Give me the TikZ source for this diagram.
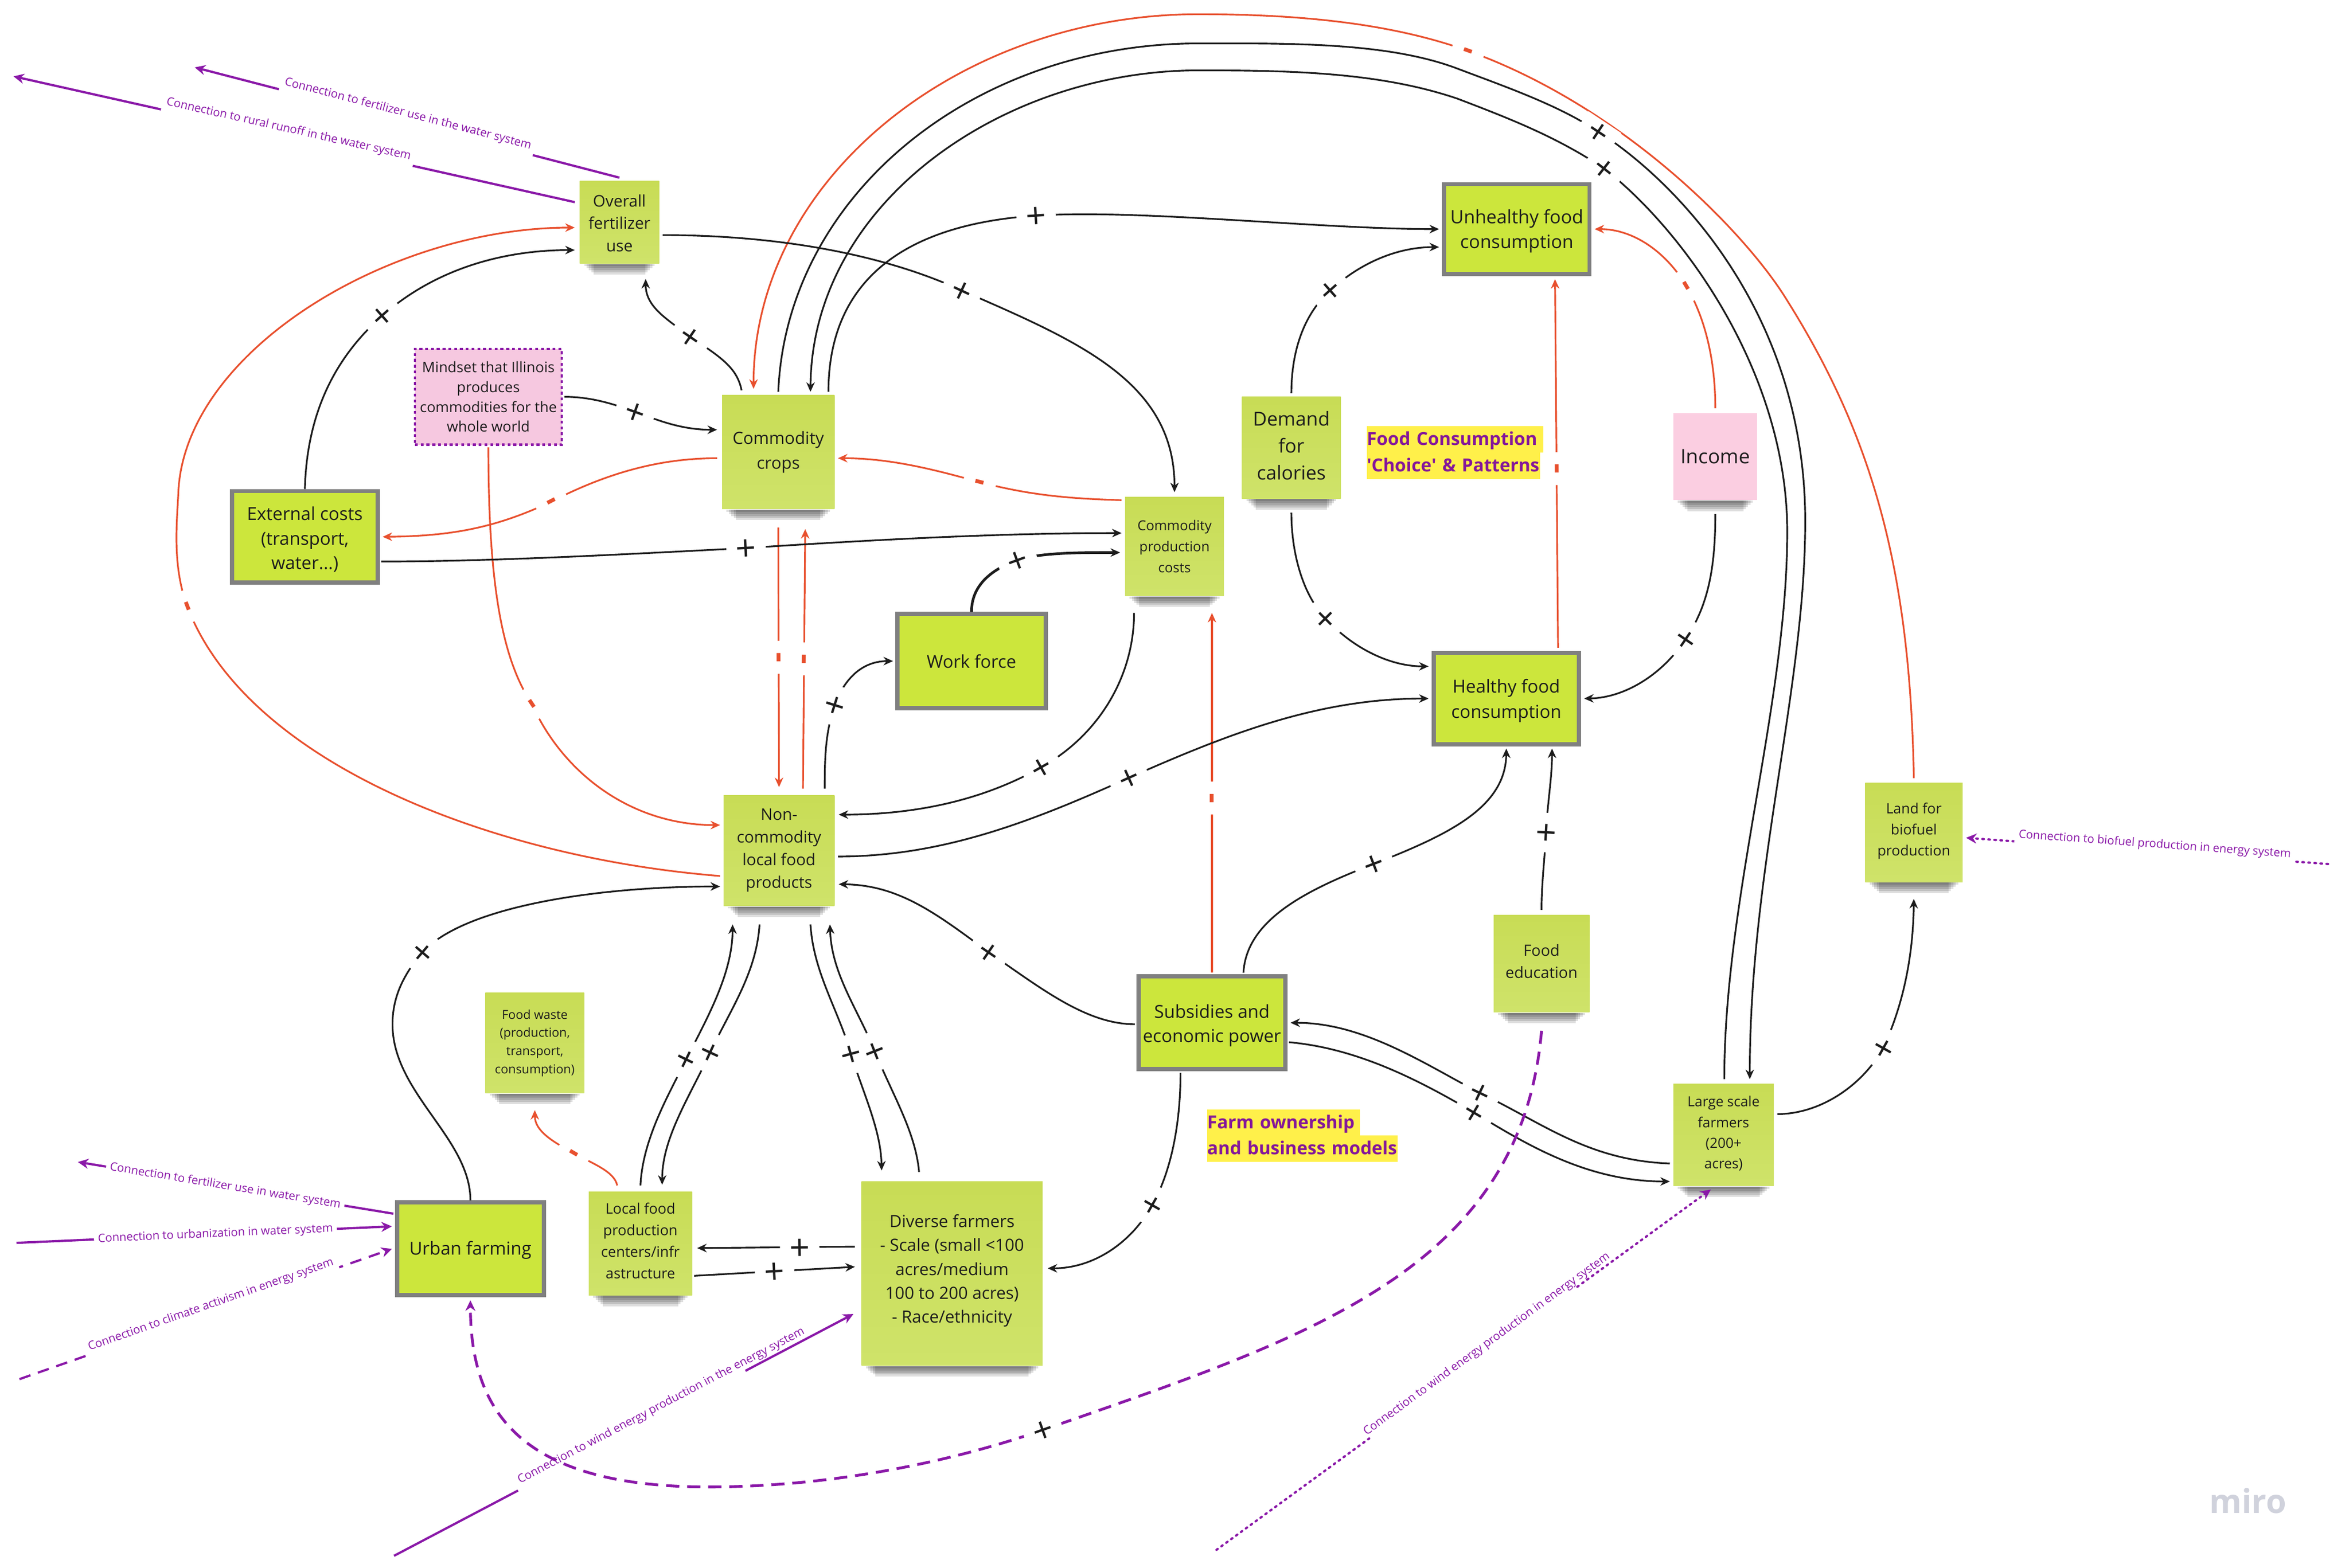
\documentclass[tikz,border=0pt]{standalone}
\usepackage{fontspec}
\setmainfont{Open Sans}
\usetikzlibrary{arrows.meta,calc}
\definecolor{ink}{HTML}{1C1C1C}
\definecolor{redl}{HTML}{E8502E}
\definecolor{purp}{HTML}{8A18A8}
\definecolor{hltext}{HTML}{84179A}
\definecolor{stickA}{HTML}{C8DC55}
\definecolor{stickB}{HTML}{CFE36A}
\definecolor{lime}{HTML}{CCE63C}
\definecolor{pinkn}{HTML}{F6C8E0}
\definecolor{pinki}{HTML}{FBCEE1}
\definecolor{yel}{HTML}{FFF04A}
\definecolor{frameg}{HTML}{808080}
\definecolor{logoc}{HTML}{D0D2DC}
\newcommand\pl{\raisebox{-.36em}{+}}
\newcommand\mn{\raisebox{-.26em}{-}}
\newcommand\fsz[2]{\fontsize{#1}{#2}\selectfont}
\newcommand\dnr[1]{\rule{0pt}{#1}}
\newcommand\upr[1]{\rule[-#1]{0pt}{#1}}
\tikzset{
  o/.style 2 args={shift={(#1,#2)}},
  sticky/.style={inner sep=0pt,align=center,text=ink,top color=stickA,bottom color=stickB,shade},
  framed/.style={inner sep=0pt,align=center,text=ink,fill=lime,draw=frameg,line width=1.6pt},
  blk/.style={draw=ink,line width=.65pt,-{Stealth[length=3.6pt,width=3.2pt]}},
  red/.style={draw=redl,line width=.65pt,-{Stealth[length=3.6pt,width=3.2pt]}},
  pur/.style={draw=purp,line width=.85pt,-{Stealth[length=4pt,width=3.8pt]}},
  pdash/.style={pur,line width=1.05pt,dash pattern=on 5pt off 3pt},
  pdash2/.style={pur,dash pattern=on 4.4pt off 3pt},
  pdot/.style={pur,line cap=round,dash pattern=on .6pt off 1.7pt},
  plus/.style={sloped,fill=white,inner sep=0pt,text=ink,font=\fontsize{13.5}{13.5}\selectfont,minimum width=15pt,text height=4.4pt,text depth=4.4pt},
  minus/.style={sloped,fill=white,inner sep=0pt,text=redl,font=\bfseries\fontsize{12}{12}\selectfont,minimum width=12.5pt,text height=1.5pt,text depth=1.5pt},
  ptext/.style={sloped,fill=white,inner xsep=1.5pt,inner ysep=2pt,text=purp,font=\fontsize{4.4}{5}\selectfont,yshift=2.6pt},
  hl/.style={fill=yel,inner xsep=0pt,inner ysep=.2pt,text=hltext,font=\bfseries\fontsize{6.85}{8}\selectfont,anchor=west,text height=7pt,text depth=2.6pt},
}
\newcommand\shad[1]{\foreach \i in {1,...,5}{\fill[black,opacity=.13] ([xshift={(1+\i*.9)*1pt}]#1.south west) rectangle ([xshift={-(1+\i*.9)*1pt},yshift={-\i*.8pt}]#1.south east);}}
\begin{document}
\begin{tikzpicture}[x=0.02cm,y=-0.02cm]
\useasboundingbox (0,0) rectangle (1568,1047);
\node[sticky,minimum width=53*.02cm,minimum height=55*.02cm,font=\fsz{6.1}{8.5}] (ovr) at (413.5,148.5) {\dnr{5.1pt}Overall\\fertilizer\\use};
\node[inner sep=0pt,align=center,text=ink,fill=pinkn,draw=purp,line width=.9pt,dash pattern=on 1.1pt off 1.1pt,minimum width=98*.02cm,minimum height=64*.02cm,font=\fsz{5.5}{7.5}] (mind) at (326,265) {Mindset that Illinois\\produces\\commodities for the\\whole world};
\node[sticky,minimum width=75*.02cm,minimum height=76*.02cm,font=\fsz{6.4}{9.3}] (com) at (519.5,302) {Commodity\\crops};
\node[sticky,minimum width=66*.02cm,minimum height=66*.02cm,font=\fsz{5.2}{8}] (cpc) at (784,365) {Commodity\\production\\costs};
\node[framed,minimum width=99*.02cm,minimum height=63*.02cm,font=\fsz{6.7}{9.4}] (wf) at (648.5,441.5) {Work force};
\node[sticky,minimum width=74*.02cm,minimum height=74*.02cm,font=\fsz{6.1}{8.6}] (non) at (520,568) {Non-\\commodity\\local food\\products};
\node[framed,minimum width=97*.02cm,minimum height=61*.02cm,font=\fsz{6.8}{9.3}] (ext) at (203.5,358.5) {\dnr{7.2pt}External costs\\(transport,\\water...)};
\node[sticky,minimum width=66*.02cm,minimum height=68*.02cm,font=\fsz{7.3}{10.2}] (dem) at (862,299) {Demand\\for\\calories\upr{1.7pt}};
\node[framed,minimum width=97*.02cm,minimum height=60*.02cm,font=\fsz{7}{9.5}] (unh) at (1012.5,153) {\dnr{7pt}Unhealthy food\\consumption};
\node[inner sep=0pt,align=center,text=ink,fill=pinki,minimum width=56*.02cm,minimum height=58*.02cm,font=\fsz{7.6}{10}] (inc) at (1145,305) {Income};
\node[framed,minimum width=97*.02cm,minimum height=61*.02cm,font=\fsz{6.8}{9.5}] (hea) at (1005.5,466.5) {\dnr{7pt}Healthy food\\consumption};
\node[sticky,minimum width=65*.02cm,minimum height=66*.02cm,font=\fsz{5.4}{8}] (bio) at (1277.5,556) {Land for\\biofuel\\production\upr{2.4pt}};
\node[sticky,minimum width=67*.02cm,minimum height=68*.02cm,font=\fsz{5.3}{7.8}] (lrg) at (1150.5,758) {Large scale\\farmers\\(200+\\acres)\upr{2.1pt}};
\node[sticky,minimum width=64*.02cm,minimum height=65*.02cm,font=\fsz{5.9}{8.5}] (edu) at (1029,643.5) {Food\\education\upr{1.7pt}};
\node[framed,minimum width=98*.02cm,minimum height=62*.02cm,font=\fsz{6.8}{9.2}] (sub) at (809,683) {\dnr{7.5pt}Subsidies and\\economic power};
\node[sticky,minimum width=66*.02cm,minimum height=67*.02cm,font=\fsz{4.7}{6.9}] (wst) at (357,696.5) {Food waste\\(production,\\transport,\\consumption)};
\node[sticky,minimum width=69*.02cm,minimum height=69*.02cm,font=\fsz{5.5}{8.2}] (loc) at (427.5,830.5) {Local food\\production\\centers/infr\\astructure\upr{2.2pt}};
\node[sticky,minimum width=121*.02cm,minimum height=123*.02cm,font=\fsz{6.4}{9.1}] (div) at (635.5,850.5) {Diverse farmers\\- Scale (small <100\\acres/medium\\100 to 200 acres)\\- Race/ethnicity\upr{3.7pt}};
\node[framed,minimum width=98*.02cm,minimum height=62*.02cm,font=\fsz{6.8}{9.5}] (urb) at (314,834) {\dnr{6.1pt}Urban farming};
% shadows
\foreach \n in {ovr,com,cpc,non,dem,inc,bio,lrg,edu,wst,loc,div}{\shad{\n}}
% text labels
\node[hl,text width=118*.02cm] (lb1) at (912,293.5) {Food Consumption};
\node[hl,text width=115.6*.02cm] (lb2) at (912,311) {\textquotesingle Choice\textquotesingle{} \& Patterns};
\node[hl,text width=102*.02cm] (lb3) at (805.5,749.7) {Farm ownership};
\node[hl,text width=127*.02cm] (lb4) at (805.5,767) {and business models};
\node[text=logoc,font=\bfseries\fontsize{12.5}{13}\selectfont,inner sep=0pt] (logo) at (1500.5,1002.5) {miro};
% free ends
\coordinate (c1) at (52,776);
\coordinate (c2) at (11,830);
\coordinate (c3) at (13,921);
\coordinate (c4) at (130,45);
\coordinate (c5) at (9,51);
\coordinate (c6) at (1554,577);
\coordinate (c7) at (812,1035);
\coordinate (c8) at (263,1039);
\coordinate (e1) at ([o={-5}{27}]div.west);
\coordinate (e2) at ([o={-8.5}{2}]lrg.south);
% ---- red connectors
\draw[red] ([o={-2}{17}]non.west) .. controls (330,573) and (165,510) .. node[minus,pos=1] (m1) {\mn} (125,405) .. controls (115,378) and (118,350) .. (119,330) .. controls (122,235) and (260,152) .. ([o={-3}{3.5}]ovr.west);
\draw[red] ([o={0}{-3}]bio.north) .. controls (1275,380) and (1250,290) .. (1190,196) .. controls (1160,150) and (1080,70) .. node[minus,pos=1] (m2) {\mn} (980,34) .. controls (930,16) and (870,9.5) .. (800,9.5) .. controls (640,9.5) and (503,120) .. ([o={-16.5}{-4}]com.north);
\draw[red] ([o={-3}{4}]com.west) .. controls (440,306) and (405,316) .. node[minus,pos=1] (m3) {\mn} (368,335) .. controls (330,353) and (300,358) .. ([o={2}{0}]ext.east);
\draw[red] ([o={0}{1}]mind.south) .. controls (326,390) and (335,440) .. node[minus,pos=1] (m4) {\mn} (355,470) .. controls (375,515) and (420,551) .. ([o={-2}{-17}]non.west);
\draw[red] ([o={-2}{-31}]cpc.west) .. controls (710,333) and (685,330) .. node[minus,pos=1] (m5) {\mn} (654,322) .. controls (625,314) and (595,306) .. ([o={2}{4}]com.east);
\draw[red] ([o={0}{12}]com.south) -- node[minus,pos=.5] (m6) {\mn} ([o={0}{-5}]non.north);
\draw[red] ([o={16}{-4}]non.north) -- node[minus,pos=.5] (m7) {\mn} ([o={18}{13}]com.south);
\draw[red] ([o={0}{-1}]sub.north) -- node[minus,pos=.485] (m8) {\mn} ([o={25}{11}]cpc.south);
\draw[red] ([o={0}{-3}]inc.north) .. controls (1145,240) and (1138,212) .. node[minus,pos=1] (m9) {\mn} (1125.6,191) .. controls (1112,168) and (1090,153) .. ([o={2}{0}]unh.east);
\draw[red] ([o={34.5}{-2}]hea.north) -- node[minus,pos=.486] (m10) {\mn} ([o={25.5}{2}]unh.south);
\draw[red] ([o={-15.5}{-4}]loc.north) .. controls (410,782) and (395,777) .. node[minus,pos=1] (m11) {\mn} (383,770) .. controls (368,762) and (357,755) .. ([o={0}{11}]wst.south);
% ---- black connectors
\draw[blk] (ext.north) .. controls (205,270) and (228,235) .. node[plus,pos=1] (p1) {\pl} (255,211) .. controls (290,180) and (335,167) .. ([o={-3}{18.5}]ovr.west);
\draw[blk] ([o={2}{8.5}]ovr.east) .. controls (520,157) and (590,170) .. node[plus,pos=1] (p2) {\pl} (642,194) .. controls (720,228) and (784,255) .. ([o={0}{-3}]cpc.north);
\draw[blk] ([o={-24.5}{-3}]com.north) .. controls (492,245) and (480,238) .. node[plus,pos=1] (p3) {\pl} (461,225) .. controls (445,213) and (431,205) .. ([o={17.5}{10}]ovr.south);
\draw[blk] ([o={1}{0}]mind.east) .. controls (395,265) and (410,270) .. node[plus,pos=1] (p4) {\pl} (424,275) .. controls (440,281) and (455,287) .. ([o={-3}{-15}]com.west);
\draw[blk] ([o={1}{16.5}]ext.east) .. controls (330,375) and (420,370) .. node[plus,pos=1] (p5) {\pl} (498,366) .. controls (590,360) and (670,356) .. ([o={-2}{-9}]cpc.west);
\draw[blk,line width=1pt] (wf.north) .. controls (648.5,392) and (660,381) .. node[plus,pos=1] (p6) {\pl} (679,374) .. controls (695,369) and (720,369) .. ([o={-3}{4}]cpc.west);
\draw[blk] ([o={30.5}{-4}]non.north) .. controls (550.5,505) and (551,490) .. node[plus,pos=1] (p7) {\pl} (557,471) .. controls (565,450) and (578,441.5) .. ([o={-1.5}{0}]wf.west);
\draw[blk] ([o={-27}{11}]cpc.south) .. controls (757,450) and (735,490) .. node[plus,pos=1] (p8) {\pl} (695,512.4) .. controls (655,535) and (610,544) .. ([o={2.5}{-24}]non.east);
\draw[blk] ([o={2}{4}]non.east) .. controls (630,572) and (690,548) .. node[plus,pos=1] (p9) {\pl} (753.4,519.5) .. controls (820,490) and (880,466.5) .. ([o={-2}{0}]hea.west);
\draw[blk] ([o={-1}{1}]sub.west) .. controls (725,684) and (695,660) .. node[plus,pos=1] (p10) {\pl} (660,636) .. controls (625,610) and (600,591) .. ([o={2.5}{22.5}]non.east);
\draw[blk] ([o={21}{-1}]sub.north) .. controls (832,615) and (870,595) .. node[plus,pos=1] (p11) {\pl} (917,577) .. controls (965,558) and (1005,540) .. ([o={0}{1.5}]hea.south);
\draw[blk] ([o={0}{-3}]edu.north) .. controls (1029,590) and (1031,575) .. node[plus,pos=1] (p12) {\pl} (1032,556) .. controls (1033,535) and (1036,520) .. ([o={30.5}{1.5}]hea.south);
\draw[blk] ([o={0}{-2}]dem.north) .. controls (862,235) and (870,210) .. node[plus,pos=1] (p13) {\pl} (888,194) .. controls (905,178) and (930,165) .. ([o={-2}{12}]unh.west);
\draw[blk] ([o={0}{9}]dem.south) .. controls (862,370) and (870,398) .. node[plus,pos=1] (p14) {\pl} (885,413) .. controls (900,430) and (925,445) .. ([o={-2}{-21.5}]hea.west);
\draw[blk] ([o={0}{9}]inc.south) .. controls (1145,380) and (1140,405) .. node[plus,pos=1] (p15) {\pl} (1125,427) .. controls (1110,450) and (1085,466) .. ([o={2}{0}]hea.east);
\draw[blk] ([o={33.5}{-2}]com.north) .. controls (553,190) and (600,150) .. node[plus,pos=1] (p16) {\pl} (691.6,144) .. controls (760,139.5) and (880,153) .. ([o={-2}{0}]unh.west);
\draw[blk] ([o={0}{-2}]com.north) .. controls (525,130) and (650,29) .. (800,29) .. controls (860,29) and (925,28) .. (972,45.5) .. controls (1005,58) and (1040,70) .. node[plus,pos=1] (p17) {\pl} (1067,88) .. controls (1120,122) and (1205,210) .. (1205,348) .. controls (1205,460) and (1168,580) .. ([o={17.5}{-3}]lrg.north);
\draw[blk] ([o={.5}{-3}]lrg.north) .. controls (1151,600) and (1193,470) .. (1193,355) .. controls (1193,250) and (1125,155) .. node[plus,pos=1] (p18) {\pl} (1071,112.7) .. controls (1040,92) and (1010,80) .. (972.6,65.8) .. controls (920,48) and (860,47) .. (800,47) .. controls (670,47) and (542,135) .. ([o={21.5}{-2}]com.north);
\draw[blk] ([o={2}{-14}]lrg.east) .. controls (1215,744) and (1243,725) .. node[plus,pos=1] (p19) {\pl} (1257,700) .. controls (1270,672) and (1277,640) .. ([o={0}{11}]bio.south);
\draw[blk] ([o={-2}{19}]lrg.west) .. controls (1060,775) and (1030,750) .. node[plus,pos=1] (p20) {\pl} (988,730) .. controls (950,710) and (910,683) .. ([o={2}{0}]sub.east);
\draw[blk] ([o={1}{13}]sub.east) .. controls (905,700) and (945,720) .. node[plus,pos=1] (p21) {\pl} (984,743) .. controls (1020,765) and (1060,789) .. ([o={-2}{31}]lrg.west);
\draw[blk] ([o={-21}{1}]sub.south) .. controls (788,750) and (782,782) .. node[plus,pos=1] (p22) {\pl} (769,805) .. controls (755,830) and (730,847) .. ([o={3}{-3.5}]div.east);
\draw[blk] ([o={0}{-4}]loc.north) .. controls (429,760) and (447,730) .. node[plus,pos=1] (p23) {\pl} (458,707.5) .. controls (472,680) and (489,650) .. ([o={-31}{12}]non.south);
\draw[blk] ([o={-13}{12}]non.south) .. controls (505,650) and (487,675) .. node[plus,pos=1] (p24) {\pl} (474,703) .. controls (460,733) and (442,760) .. ([o={14.5}{-4.5}]loc.north);
\draw[blk] ([o={21}{12}]non.south) .. controls (543,650) and (560,675) .. node[plus,pos=1] (p25) {\pl} (568,704) .. controls (577,732) and (588,755) .. ([o={-47}{-7}]div.north);
\draw[blk] ([o={-22}{-6}]div.north) .. controls (611,755) and (595,730) .. node[plus,pos=1] (p26) {\pl} (584,702) .. controls (572,673) and (555,650) .. ([o={34}{12}]non.south);
\draw[blk] (urb.north) .. controls (314,760) and (262,730) .. (262,684) .. controls (262,665) and (270,650) .. node[plus,pos=1] (p27) {\pl} (282,636) .. controls (310,605) and (400,592) .. ([o={-2}{24}]non.west);
\draw[blk] ([o={-4}{-18}]div.west) -- node[plus,pos=.35] (p28) {\pl} ([o={3}{3}]loc.east);
\draw[blk] ([o={1}{21.5}]loc.east) -- node[plus,pos=.5] (p29) {\pl} ([o={-4}{-4.5}]div.west);
% ---- purple connectors
\draw[pdash] ([o={0}{12}]edu.south) .. controls (1015,850) and (870,894) .. node[plus,pos=1] (p30) {\pl} (696,955) .. controls (630,978) and (550,993) .. (473,993) .. controls (350,993) and (314,945) .. ([o={0}{2}]urb.south);
\draw[pur,arrows=-] (c8) -- ($(c8)!.27!(e1)$);
\draw[pur] ($(c8)!.765!(e1)$) -- (e1);
\path (c8) -- node[ptext,fill=none,pos=.59,yshift=.5pt] (t1) {Connection to wind energy production in the energy system} (e1);
\draw[pur] ([o={-1}{-23.5}]urb.west) -- node[ptext,pos=.533,yshift=-2.6pt] (t2) {Connection to fertilizer use in water system} (c1);
\draw[pur] (c2) -- node[ptext,pos=.53,yshift=-2.6pt] (t3) {Connection to urbanization in water system} ([o={-2}{-15}]urb.west);
\draw[pdash2] (c3) -- node[ptext,pos=.52] (t4) {Connection to climate activism in energy system} ([o={-2}{0}]urb.west);
\draw[pur] ([o={0}{-2}]ovr.north) -- node[ptext,pos=.503,yshift=.6pt] (t5) {Connection to fertilizer use in the water system} (c4);
\draw[pur] ([o={-3}{-13.5}]ovr.west) -- node[ptext,pos=.513,yshift=.6pt] (t6) {Connection to rural runoff in the water system} (c5);
\draw[pdot] (c6) -- node[ptext,pos=.48] (t7) {Connection to biofuel production in energy system} ([o={2}{3.5}]bio.east);
\draw[pdot,arrows=-] (c7) -- ($(c7)!.309!(e2)$);
\draw[pdot] ($(c7)!.73!(e2)$) -- (e2);
\path (c7) -- node[ptext,fill=none,pos=.555] (t8) {Connection to wind energy production in energy system} (e2);
\end{tikzpicture}
\end{document}
